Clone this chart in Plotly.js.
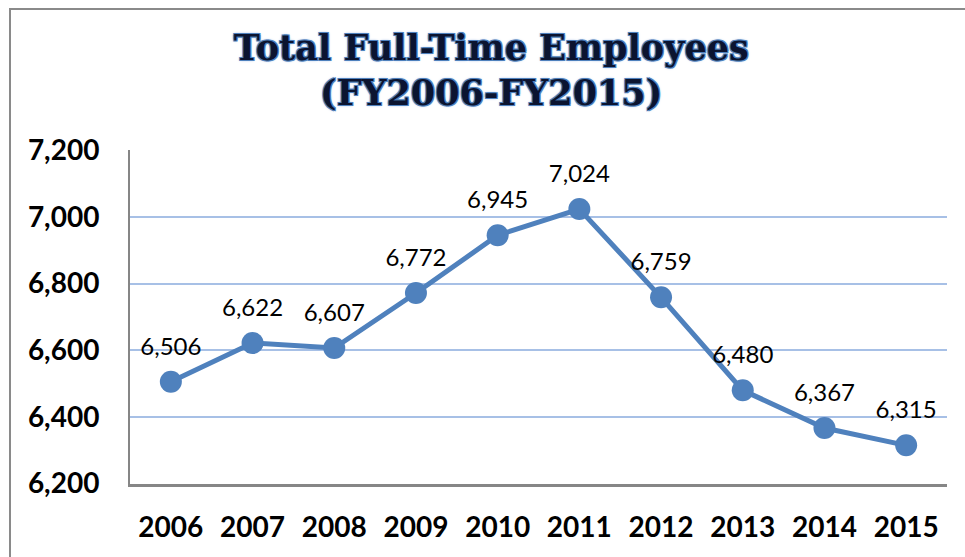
<!DOCTYPE html>
<html>
<head>
<meta charset="utf-8">
<script src="https://cdn.plot.ly/plotly-3.0.1.min.js"></script>
<style>
  html, body { margin: 0; padding: 0; background: #ffffff; }
  #wrap { position: relative; width: 965px; height: 557px; overflow: hidden; }
  #chart { width: 965px; height: 557px; }
  #frame { position: absolute; left: 9px; top: 8px; width: 1100px; height: 700px;
           border-top: 2px solid #8a8a8a; border-left: 2px solid #8a8a8a; pointer-events: none; }
</style>
</head>
<body>
<div id="wrap">
  <div id="chart"></div>
  <div id="frame"></div>
</div>
<script>
const years = ["2006", "2007", "2008", "2009", "2010", "2011", "2012", "2013", "2014", "2015"];
const employees = [6506, 6622, 6607, 6772, 6945, 7024, 6759, 6480, 6367, 6315];
const valueLabels = ["6,506", "6,622", "6,607", "6,772", "6,945", "7,024", "6,759", "6,480", "6,367", "6,315"];
const yTicks = [6200, 6400, 6600, 6800, 7000, 7200];
const yTickLabels = ["6,200", "6,400", "6,600", "6,800", "7,000", "7,200"];
const titleLines = ["Total Full-Time Employees", "(FY2006-FY2015)"];

const blue = "#4f81bd";

const lineTrace = {
  type: "scatter",
  mode: "lines+markers",
  x: years,
  y: employees,
  line: { color: blue, width: 5 },
  marker: { color: blue, size: 22 },
  hoverinfo: "x+y",
  cliponaxis: false
};

const labelTrace = {
  type: "scatter",
  mode: "markers+text",
  x: years,
  y: employees,
  text: valueLabels,
  textposition: "top center",
  textfont: { family: "Lato, sans-serif", size: 24, color: "#000000" },
  marker: { color: "rgba(0,0,0,0)", size: 32 },
  hoverinfo: "skip",
  cliponaxis: false
};

const layout = {
  width: 965,
  height: 557,
  paper_bgcolor: "#ffffff",
  plot_bgcolor: "#ffffff",
  margin: { l: 130, r: 18, t: 150, b: 73 },
  showlegend: false,
  title: {
    text: titleLines.join("<br>"),
    x: 0.509,
    xanchor: "center",
    y: 0.893,
    yanchor: "top",
    font: {
      family: "DejaVu Serif, serif",
      size: 35,
      color: "#0b1430",
      weight: "bold",
      shadow: "1px 1px 0 #4f81bd, -1px -1px 0 #4f81bd, 1px -1px 0 #4f81bd, -1px 1px 0 #4f81bd, 0 0 3px #6b95cf"
    }
  },
  xaxis: {
    type: "category",
    range: [-0.5, 9.5],
    showgrid: false,
    zeroline: false,
    showline: true,
    linecolor: "#868686",
    linewidth: 2.5,
    ticks: "",
    ticklabelstandoff: 17,
    tickfont: { family: "Lato, sans-serif", size: 28, color: "#000000", weight: "bold" },
    fixedrange: true
  },
  yaxis: {
    range: [6199, 7201],
    tickvals: yTicks,
    ticktext: yTickLabels,
    showgrid: true,
    gridcolor: "#a7c0e6",
    gridwidth: 1.5,
    zeroline: false,
    showline: true,
    linecolor: "#868686",
    linewidth: 2,
    ticks: "",
    ticklabelstandoff: 23,
    tickfont: { family: "Lato, sans-serif", size: 28, color: "#000000", weight: "bold" },
    fixedrange: true
  }
};

Plotly.newPlot("chart", [lineTrace, labelTrace], layout, { displayModeBar: false });
</script>
</body>
</html>
